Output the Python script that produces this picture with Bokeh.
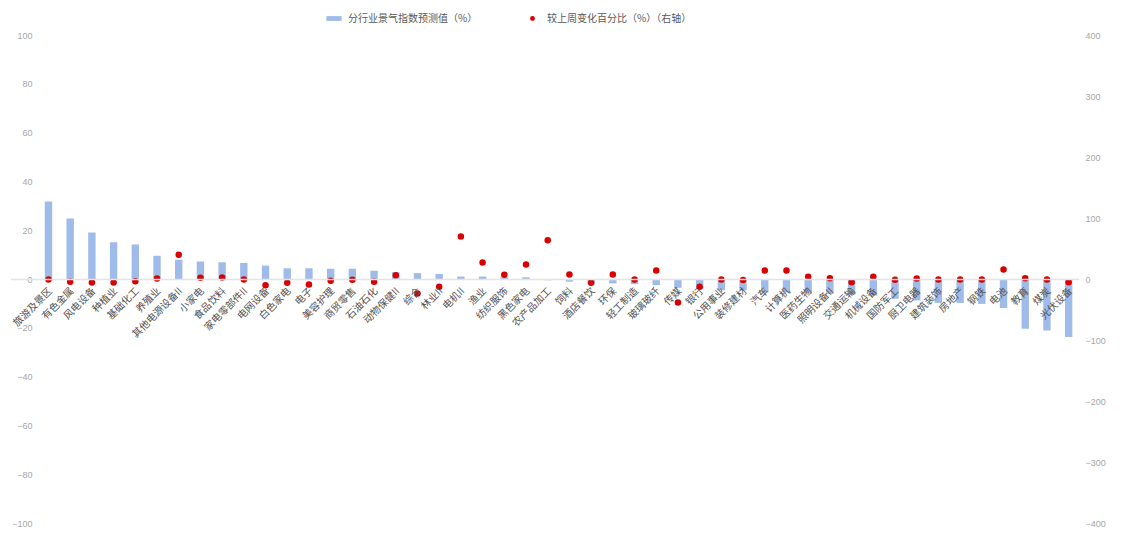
from bokeh.plotting import figure
from bokeh.models import ColumnDataSource, Range1d, LinearAxis, Span, Legend, LegendItem, FixedTicker
from bokeh.core.properties import value
from bokeh.embed import file_html
from bokeh.resources import INLINE
import math

categories = ["旅游及景区", "有色金属", "风电设备", "种植业", "基础化工", "养殖业", "其他电源设备II", "小家电",
              "食品饮料", "家电零部件II", "电网设备", "白色家电", "电子", "美容护理", "商贸零售", "石油石化",
              "动物保健II", "综合", "林业II", "电机II", "渔业", "纺织服饰", "黑色家电", "农产品加工",
              "饲料", "酒店餐饮", "环保", "轻工制造", "玻璃玻纤", "传媒", "银行", "公用事业",
              "装修建材", "汽车", "计算机", "医药生物", "照明设备II", "交通运输", "机械设备", "国防军工",
              "厨卫电器", "建筑装饰", "房地产", "钢铁", "电池", "教育", "煤炭", "光伏设备"]

index_values = [32.0, 25.0, 19.3, 15.3, 14.3, 9.7, 8.1, 7.4,
                7.1, 6.8, 5.7, 4.6, 4.6, 4.4, 4.4, 3.6,
                3.0, 2.6, 2.3, 1.2, 1.2, 0.9, 0.9, -0.3,
                -0.9, -1.9, -1.6, -1.9, -2.3, -3.4, -3.7, -4.4,
                -4.4, -5.3, -5.3, -5.5, -5.9, -6.3, -6.6, -7.9,
                -8.6, -9.6, -9.6, -10.0, -11.7, -20.2, -20.9, -23.6]

weekly_change = [0.0, -3.8, -4.9, -4.9, -2.7, 1.6, 40.5, 2.7,
                 3.3, 0.0, -9.5, -5.5, -8.2, -2.2, -0.5, -3.8,
                 7.1, -23.0, -12.0, 70.5, 27.9, 7.7, 24.6, 64.4,
                 8.2, -5.5, 8.2, 0.0, 14.7, -37.7, -12.0, 0.0,
                 -1.0, 14.7, 14.7, 4.4, 2.2, -4.4, 4.4, -0.5,
                 1.6, 0.0, 0.0, 0.0, 16.4, 2.2, 0.0, -4.4]

left_ticks = [-100, -80, -60, -40, -20, 0, 20, 40, 60, 80, 100]
right_ticks = [-400, -300, -200, -100, 0, 100, 200, 300, 400]

series_names = ["分行业景气指数预测值（%）", "较上周变化百分比（%）（右轴）"]

positions = list(range(len(categories)))
src = ColumnDataSource(dict(pos=positions, cat=categories, val=index_values, chg=weekly_change,
                            zero=[0] * len(categories)))

# frame spans the whole height; axis scale: 100 -> y=35px, -100 -> y=523px
W, H = 1117, 535
px_left = (523 - 35) / 200.0
top_left = 279 / px_left
bot_left = -(H - 279) / px_left
p = figure(width=W, height=H, output_backend="svg", toolbar_location=None,
           x_range=Range1d(-1.75, len(categories) - 0.5),
           y_range=Range1d(bot_left, top_left),
           min_border_left=10, min_border_right=W - 1079, min_border_top=0, min_border_bottom=0)
p.outline_line_color = None
p.background_fill_color = "white"
p.border_fill_color = "white"
p.xgrid.visible = False
p.ygrid.visible = False
p.xaxis.visible = False

p.extra_y_ranges = {"right": Range1d(bot_left * 4, top_left * 4)}

ax = p.yaxis[0]
ax.ticker = FixedTicker(ticks=left_ticks)
ax.axis_line_color = None
ax.major_tick_line_color = None
ax.minor_tick_line_color = None
ax.major_tick_out = 0
ax.major_label_text_color = "#a6a6a6"
ax.major_label_text_font_size = "9px"
ax.major_label_text_font = "Liberation Sans"
ax.major_label_standoff = -22

rax = LinearAxis(y_range_name="right", ticker=FixedTicker(ticks=right_ticks))
rax.axis_line_color = None
rax.major_tick_line_color = None
rax.minor_tick_line_color = None
rax.major_tick_out = 0
rax.major_label_text_color = "#a6a6a6"
rax.major_label_text_font_size = "9px"
rax.major_label_text_font = "Liberation Sans"
rax.major_label_standoff = 6
p.add_layout(rax, "right")

p.add_layout(Span(location=0, dimension="width", line_color="#e3e3e3", line_width=1.5))

bars = p.vbar(x="pos", top="val", bottom=0, width=0.34, source=src,
              fill_color="#9fbbe9", line_color=None)
dots = p.scatter(x="pos", y="chg", y_range_name="right", source=src, size=6.5,
                 fill_color="#d90000", line_color=None)

p.text(x="pos", y="zero", text="cat", source=src, angle=math.pi / 4,
       text_align="right", text_baseline="middle", x_offset=1, y_offset=9,
       text_font=value("Noto Sans CJK SC"), text_font_size="10px", text_color="#505050")

common = dict(label_text_font="Noto Sans CJK SC", label_text_font_size="10px",
              label_text_color="#595959", padding=0, margin=0,
              border_line_color=None, background_fill_alpha=0)
legend1 = Legend(items=[LegendItem(label=series_names[0], renderers=[bars])],
                 location=(314, 510), glyph_width=19, glyph_height=6, label_height=12,
                 label_standoff=5, **common)
legend2 = Legend(items=[LegendItem(label=series_names[1], renderers=[dots])],
                 location=(516, 510), glyph_width=12, glyph_height=12, label_height=12,
                 label_standoff=9, **common)
p.add_layout(legend1, "center")
p.add_layout(legend2, "center")

open("out.html", "w").write(file_html(p, INLINE))
